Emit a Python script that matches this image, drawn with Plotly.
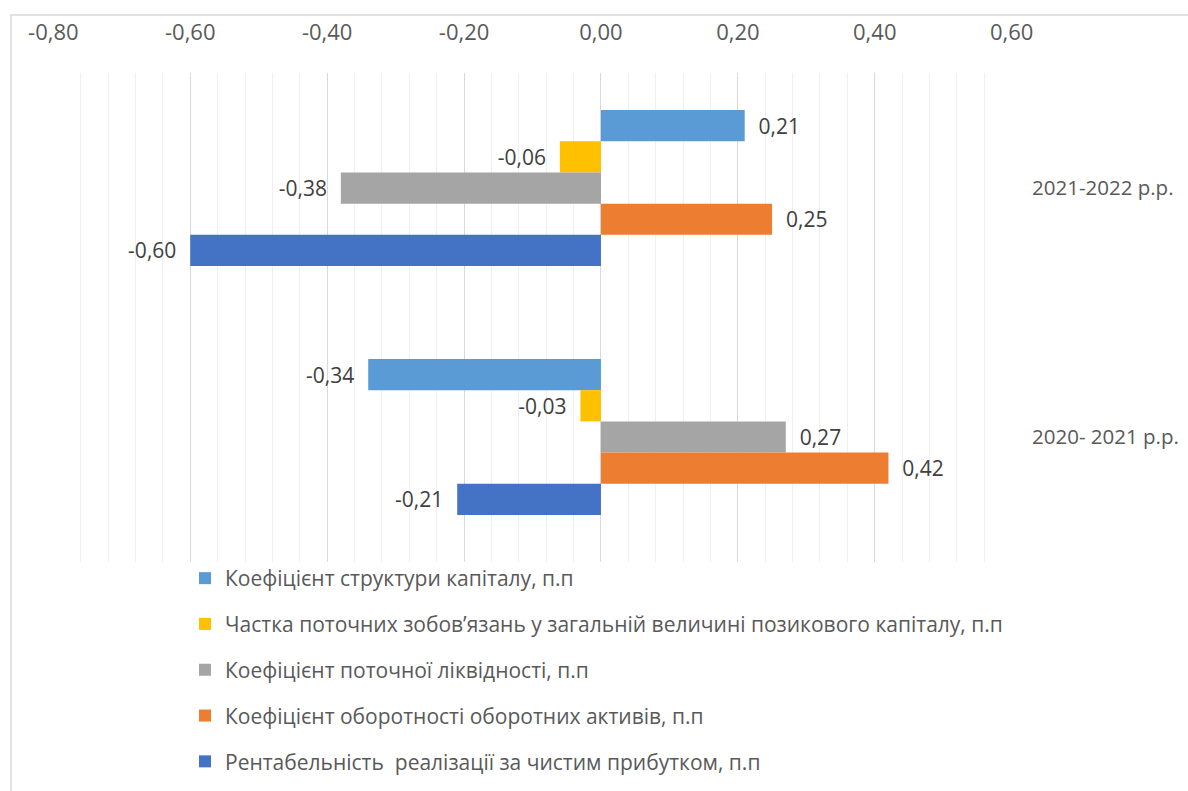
import plotly.graph_objects as go

categories = ["2021-2022 р.р.", "2020- 2021 р.р."]

series_names = [
    "Коефіцієнт структури капіталу, п.п",
    "Частка поточних зобов’язань у загальній величині позикового капіталу, п.п",
    "Коефіцієнт поточної ліквідності, п.п",
    "Коефіцієнт оборотності оборотних активів, п.п",
    "Рентабельність  реалізації за чистим прибутком, п.п",
]
capital_structure = [0.21, -0.34]
current_liabilities_share = [-0.06, -0.03]
current_liquidity = [-0.38, 0.27]
asset_turnover = [0.25, 0.42]
net_profit_margin = [-0.60, -0.21]

series_values = [capital_structure, current_liabilities_share, current_liquidity,
                 asset_turnover, net_profit_margin]
colors = ["#5B9BD5", "#FFC000", "#A5A5A5", "#ED7D31", "#4472C4"]

tick_vals = [-0.8, -0.6, -0.4, -0.2, 0.0, 0.2, 0.4, 0.6]
tick_text = ["-0,80", "-0,60", "-0,40", "-0,20", "0,00", "0,20", "0,40", "0,60"]

W, H = 1188, 791
ML, MR, MT, MB = 53, 176, 73, 229
PW, PH = W - ML - MR, H - MT - MB

def fmt(v):
    return f"{v:.2f}".replace(".", ",")

NB = "\u00a0\u00a0"
fig = go.Figure()
for name, vals, col in zip(series_names, series_values, colors):
    texts = [(NB + fmt(v)) if v >= 0 else (fmt(v) + NB) for v in vals]
    fig.add_trace(go.Bar(
        y=categories, x=vals, orientation="h", name=name,
        marker=dict(color=col, line=dict(width=0)),
        text=texts, textposition="outside", constraintext="none", cliponaxis=False,
        textfont=dict(family="Open Sans", size=21, color="#404040"),
        legendgroup=name, hoverinfo="x+name",
    ))

def px_x(px):
    return (px - ML) / PW

def px_y(py):
    return (MT + PH - py) / PH

fig.update_layout(
    width=W, height=H,
    margin=dict(l=ML, r=MR, t=MT, b=MB, pad=0, autoexpand=False),
    paper_bgcolor="white", plot_bgcolor="white",
    barmode="group", bargap=0.373, bargroupgap=0,
    font=dict(family="Open Sans", color="#595959"),
    showlegend=True,
    legend=dict(
        x=px_x(185), y=px_y(558), xanchor="left", yanchor="top",
        traceorder="grouped", tracegroupgap=15.5,
        font=dict(family="Open Sans", size=21, color="#595959"),
        bgcolor="rgba(0,0,0,0)", borderwidth=0,
    ),
    xaxis=dict(
        side="top", range=[-0.8005, 0.6005], automargin=False,
        tickvals=tick_vals, ticktext=tick_text,
        tickfont=dict(family="Open Sans", size=22, color="#595959"),
        showgrid=True, gridcolor="#D9D9D9", gridwidth=1.3,
        zeroline=True, zerolinecolor="#D9D9D9", zerolinewidth=1.3,
        showline=False, ticks="", ticklabelstandoff=28,
        minor=dict(dtick=0.04, tick0=0, showgrid=True, gridcolor="#F0F0F0", gridwidth=1),
    ),
    yaxis=dict(
        side="right", range=[1.502, -0.462], type="category", automargin=False,
        tickfont=dict(family="Open Sans", size=20.5, color="#595959"),
        showgrid=False, zeroline=False, showline=False, ticks="",
        ticklabelstandoff=19,
    ),
    shapes=[dict(
        type="rect", xref="paper", yref="paper",
        x0=px_x(11), x1=px_x(1200), y0=px_y(800), y1=px_y(15),
        line=dict(color="#D9D9D9", width=1.5), fillcolor="rgba(0,0,0,0)", layer="below",
    )],
)

fig.write_html("out.html")
